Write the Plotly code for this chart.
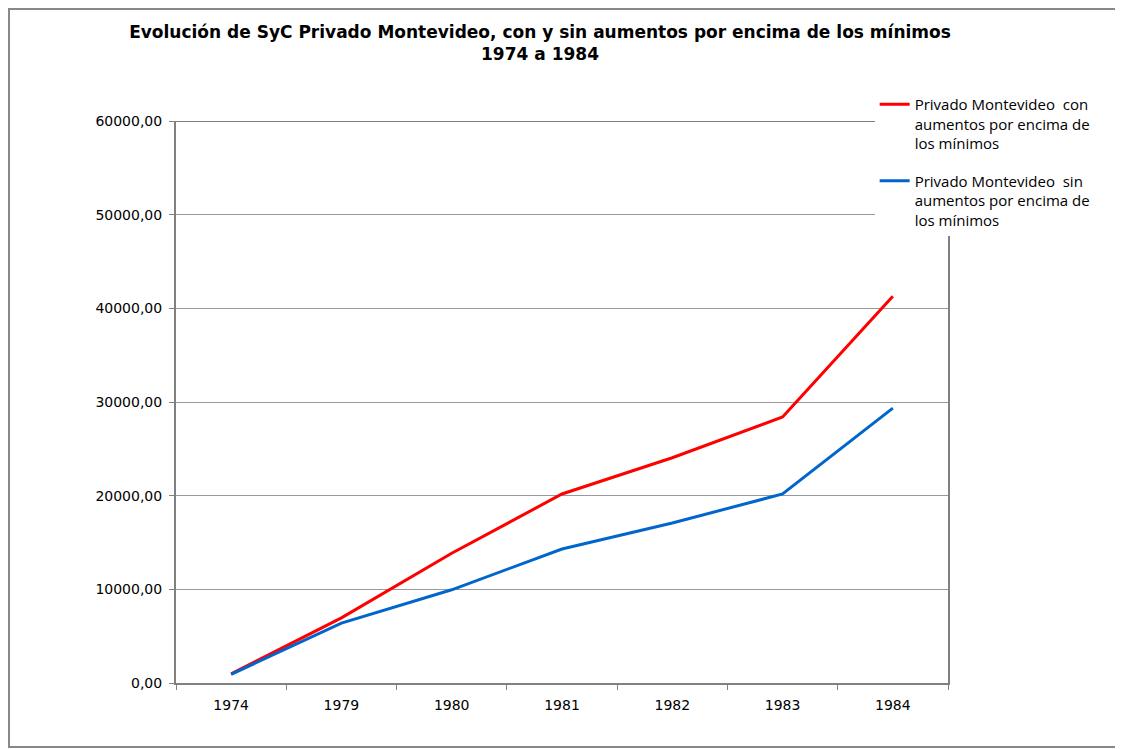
import plotly.graph_objects as go

anios = ['1974', '1979', '1980', '1981', '1982', '1983', '1984']
con_aumentos = [980, 6950, 13850, 20180, 24050, 28400, 41300]
sin_aumentos = [930, 6400, 9950, 14300, 17080, 20180, 29350]

nombre_con = 'Privado Montevideo  con<br>aumentos por encima de<br>los mínimos'
nombre_sin = 'Privado Montevideo  sin<br>aumentos por encima de<br>los mínimos'

fig = go.Figure()

fig.add_trace(go.Scatter(
    x=anios, y=con_aumentos, mode='lines', name=nombre_con,
    line=dict(color='#FF0000', width=3), legendgroup='con'
))
fig.add_trace(go.Scatter(
    x=anios, y=sin_aumentos, mode='lines', name=nombre_sin,
    line=dict(color='#0066CC', width=3), legendgroup='sin'
))

# borde superior negro del area de trazado
fig.add_shape(type='line', xref='paper', yref='y', x0=0, x1=1, y0=60000, y1=60000,
              line=dict(color='black', width=1))
# borde exterior del grafico (la pagina tiene 8px de margen en el body)
fig.add_shape(type='rect', xref='paper', yref='paper', x0=-167 / 772, x1=(1112 - 168) / 772,
              y0=-(739 - 675) / 562, y1=1 + 112 / 562,
              line=dict(color='#888888', width=2))

fig.update_layout(
    width=1115,
    height=741,
    paper_bgcolor='white',
    plot_bgcolor='white',
    separators=', ',
    font=dict(family='DejaVu Sans', size=14, color='black'),
    title=dict(
        text='Evolución de SyC Privado Montevideo, con y sin aumentos por encima de los mínimos<br>1974 a 1984',
        font=dict(family='DejaVu Sans', size=17, color='black', weight='bold'),
        x=532 / 1115, xanchor='center',
        y=1 - 30 / 741, yanchor='top', yref='container'
    ),
    legend=dict(
        x=0.905, xanchor='left',
        y=1 + 33 / 562, yanchor='top',
        bgcolor='white',
        font=dict(family='Open Sans', size=15, color='black'),
        valign='top',
        tracegroupgap=15,
    ),
    margin=dict(l=168, r=175, t=113, b=66),
    showlegend=True
)

fig.update_xaxes(
    type='category',
    range=[-0.5, 6.5],
    showline=True, linecolor='#808080', linewidth=2,
    mirror=False,
    ticks='outside', tickson='boundaries', ticklen=5, tickcolor='#808080',
    ticklabelstandoff=8,
    showgrid=False,
    tickfont=dict(family='DejaVu Sans', size=14, color='black')
)

fig.update_yaxes(
    range=[0, 60000],
    tickvals=[0, 10000, 20000, 30000, 40000, 50000, 60000],
    tickformat='.2f',
    showline=True, linecolor='#808080', linewidth=2,
    mirror=True,
    ticks='outside', ticklen=5, tickcolor='#808080',
    ticklabelstandoff=4,
    showgrid=True, gridcolor='#999999', gridwidth=1,
    zeroline=False,
    tickfont=dict(family='DejaVu Sans', size=14, color='black')
)

fig.write_html('out.html')
